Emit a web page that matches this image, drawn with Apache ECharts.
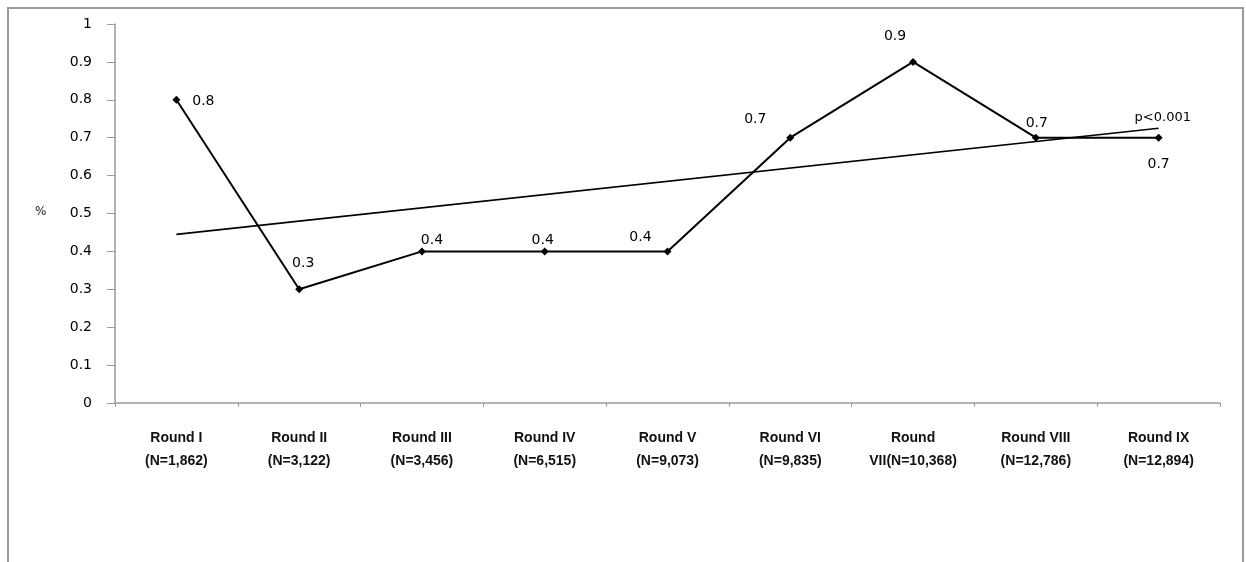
<!DOCTYPE html>
<html>
<head>
<meta charset="utf-8">
<script src="https://cdn.jsdelivr.net/npm/echarts@6/dist/echarts.min.js"></script>
<style>
  html, body { margin: 0; padding: 0; background: #fff; }
  #chart { width: 1246px; height: 562px; }
</style>
</head>
<body>
<div id="chart"></div>
<script>
// categories (rounds, with sample size)
const rounds = [
  'Round I\n(N=1,862)', 'Round II\n(N=3,122)', 'Round III\n(N=3,456)',
  'Round IV\n(N=6,515)', 'Round V\n(N=9,073)', 'Round VI\n(N=9,835)',
  'Round\nVII(N=10,368)', 'Round VIII\n(N=12,786)', 'Round IX\n(N=12,894)'
]
// prevalence per round, %
const percent = [0.8, 0.3, 0.4, 0.4, 0.4, 0.7, 0.9, 0.7, 0.7]
// linear trend, read at first and last round
const trendStart = 0.445
const trendEnd = 0.725
const trendNote = 'p<0.001'
const yTicks = [0, 0.1, 0.2, 0.3, 0.4, 0.5, 0.6, 0.7, 0.8, 0.9, 1]

// where each value label sits relative to its point
const labelOffsets = [[27, 2], [4, -26], [10, -11], [-2, -11], [-27, -14],
  [-35, -18], [-18, -26], [1, -14], [0, 27]]

const chart = echarts.init(document.getElementById('chart'))
const numFont = 'DejaVu Sans'

chart.setOption({
  animation: false,
  backgroundColor: '#fff',
  graphic: [{
    type: 'rect',
    shape: { x: 8, y: 8, width: 1235, height: 600 },
    style: { fill: 'none', stroke: '#9a9a9a', lineWidth: 2 },
    silent: true
  }, {
    type: 'text',
    left: 35, top: 206,
    style: { text: '%', font: '12px ' + numFont, fill: '#222' }
  }],
  grid: { left: 115, right: 26, top: 24, bottom: 159 },
  xAxis: {
    type: 'category',
    data: rounds,
    boundaryGap: true,
    axisLine: { lineStyle: { color: '#9a9a9a', width: 1.5 } },
    axisTick: { show: true, length: 4, lineStyle: { color: '#9a9a9a' } },
    axisLabel: {
      interval: 0, margin: 24, lineHeight: 23,
      fontFamily: 'Liberation Sans', fontWeight: 'bold', fontSize: 14, color: '#111'
    }
  },
  yAxis: {
    type: 'value',
    min: 0, max: 1, interval: 0.1,
    axisLine: { show: true, lineStyle: { color: '#9a9a9a', width: 1.5 } },
    axisTick: { show: true, length: 8, lineStyle: { color: '#9a9a9a' } },
    splitLine: { show: false },
    axisLabel: {
      margin: 23, fontFamily: numFont, fontSize: 14, color: '#000',
      formatter: v => String(yTicks.find(t => Math.abs(t - v) < 1e-9) ?? v)
    }
  },
  series: [
    {
      type: 'line',
      data: percent.map((v, i) => ({
        value: v,
        label: { offset: labelOffsets[i] }
      })),
      symbol: 'diamond',
      symbolSize: 8,
      lineStyle: { color: '#000', width: 2 },
      itemStyle: { color: '#000' },
      label: {
        show: true, position: 'inside', align: 'center', verticalAlign: 'middle',
        fontFamily: numFont, fontSize: 14, color: '#000'
      },
      z: 3
    },
    {
      type: 'line',
      data: [[0, trendStart], [rounds.length - 1, trendEnd]],
      symbol: 'none',
      lineStyle: { color: '#000', width: 1.6 },
      endLabel: {
        show: true, formatter: trendNote, offset: [-32, -11],
        fontFamily: numFont, fontSize: 13, color: '#000'
      },
      z: 2
    }
  ]
})
</script>
</body>
</html>
